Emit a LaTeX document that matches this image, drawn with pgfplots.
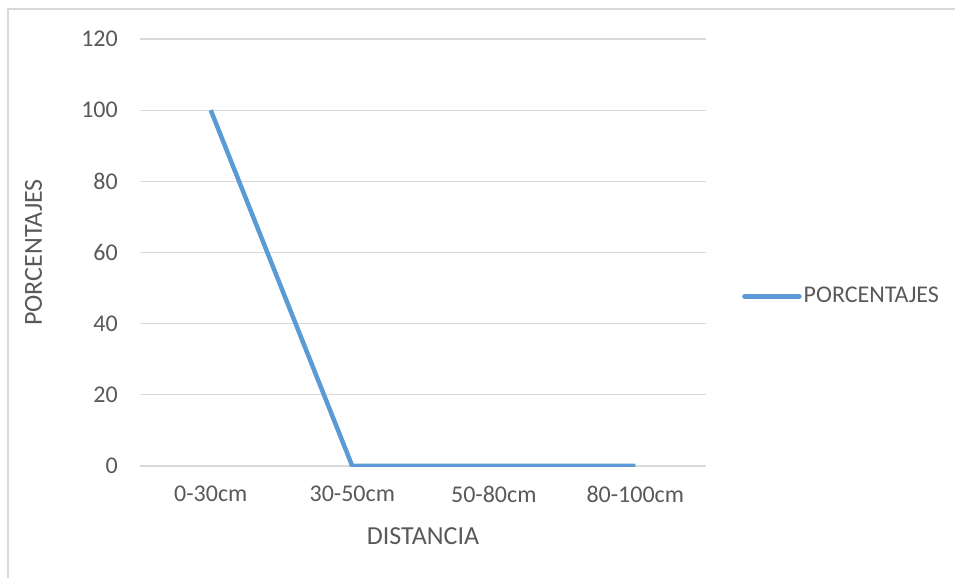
\documentclass[border=0pt]{standalone}
\usepackage{pgfplots}
\pgfplotsset{compat=1.18}
\usepackage{fontspec}
\setmainfont{Carlito}
\definecolor{txt}{HTML}{595959}
\definecolor{gridc}{HTML}{D9D9D9}
\definecolor{serie}{HTML}{5B9BD5}
\begin{document}
\begin{tikzpicture}[x=1pt,y=1pt]
\fontsize{24}{28}\selectfont
% canvas and chart frame
\path[use as bounding box] (0,0) rectangle (955,578);
\draw[gridc, line width=1.5pt] (8,0) -- (8,569) -- (956,569);
\begin{axis}[
  at={(140pt,112pt)}, anchor=south west,
  scale only axis, width=566pt, height=427pt,
  xmin=-0.5, xmax=3.5, ymin=0, ymax=120,
  xtick=data, xticklabels={0-30cm,30-50cm,50-80cm,80-100cm},
  ytick={0,20,...,120},
  axis line style={draw=none},
  major tick length=0pt,
  xmajorgrids=false, ymajorgrids=true,
  major grid style={draw=gridc, line width=1.2pt},
  tick label style={text=txt, font=\fontsize{24}{28}\selectfont},
  yticklabel style={xshift=-14pt},
  xticklabel style={yshift=-12pt},
  /pgf/number format/assume math mode=true,
  xlabel={DISTANCIA}, ylabel={PORCENTAJES},
  label style={text=txt, font=\fontsize{26}{30}\selectfont},
  xlabel style={yshift=-9pt},
  ylabel style={yshift=23pt},
  legend style={at={(1,0.5)}, anchor=west, xshift=36pt, yshift=-44pt,
    draw=none, fill=none, text=txt, font=\fontsize{24}{28}\selectfont,
    inner sep=0pt},
  legend cell align=left,
  legend image code/.code={\draw[#1, line cap=round] (0pt,0pt) -- (55pt,0pt);},
]
\addplot[serie, line width=4.5pt, line join=round, mark=none]
  coordinates {(0,100) (1,0) (2,0) (3,0)};
\addlegendentry{PORCENTAJES}
\end{axis}
\end{tikzpicture}
\end{document}
